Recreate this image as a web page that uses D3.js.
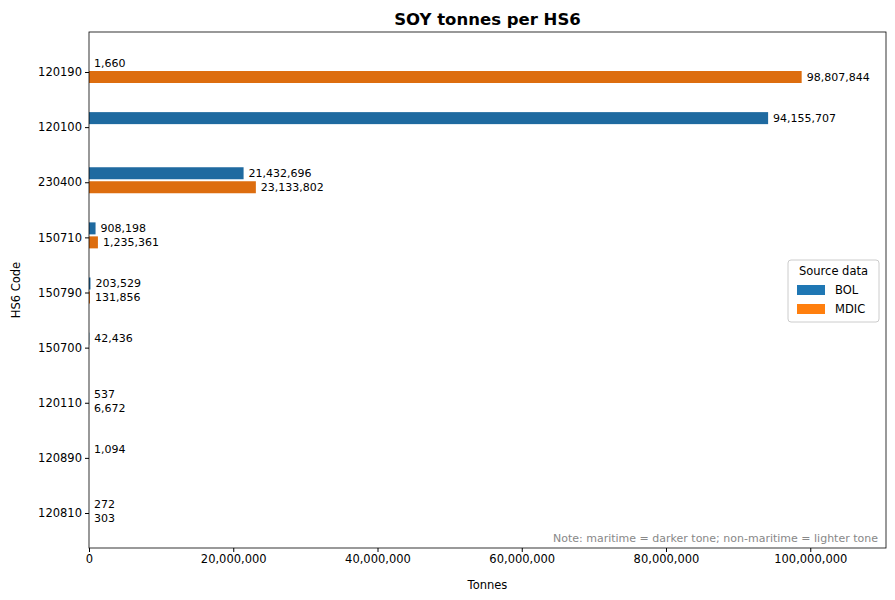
<!DOCTYPE html>
<html><head><meta charset="utf-8">
<script src="https://cdn.jsdelivr.net/npm/d3@7"></script>
<style>body{margin:0;background:#fff;font-family:"DejaVu Sans",sans-serif}</style>
</head><body>
<svg id="chart" width="895" height="600"></svg>
<script>
// SOY tonnes per HS6, by source
var codes = ["120190","120100","230400","150710","150790","150700","120110","120890","120810"];
var bolValues = [1660, 94155707, 21432696, 908198, 203529, 42436, 537, 1094, 272];
var mdicValues = [98807844, null, 23133802, 1235361, 131856, null, 6672, null, 303];
var xTicks = [0, 20000000, 40000000, 60000000, 80000000, 100000000];

var svg = d3.select("#chart");
var m = {left: 89, right: 9, top: 32, bottom: 52};
var w = 895 - m.left - m.right, h = 600 - m.top - m.bottom;
var g = svg.append("g").attr("transform", "translate(" + m.left + "," + m.top + ")");

var x = d3.scaleLinear().domain([0, 110500000]).range([0, w]);
var y = d3.scalePoint().domain(codes).range([40, h - 35]);
var fmt = d3.format(",");

var series = [
  {name: "BOL", values: bolValues, dark: "#1f6aa0", light: "#1f77b4", off: -15},
  {name: "MDIC", values: mdicValues, dark: "#dd6d0f", light: "#ff7f0e", off: -1}
];

series.forEach(function(s) {
  codes.forEach(function(c, i) {
    var v = s.values[i];
    if (v == null) return;
    var y0 = y(c) + s.off;
    g.append("rect").attr("x", 0).attr("y", y0)
      .attr("width", x(v)).attr("height", 12).attr("fill", s.dark);
    g.append("text").attr("x", x(v) + 5).attr("y", y0 + 6)
      .attr("dy", "0.35em").attr("font-size", 11).text(fmt(v));
  });
});

var xa = g.append("g").attr("transform", "translate(0," + h + ")")
  .call(d3.axisBottom(x).tickValues(xTicks).tickFormat(fmt).tickSizeOuter(0).tickSize(4));
var ya = g.append("g").call(d3.axisLeft(y).tickSize(4));
[xa, ya].forEach(function(a) {
  a.selectAll("text").attr("font-size", 11.5).attr("fill", "#000").attr("font-family", "DejaVu Sans");
  a.selectAll(".domain").remove();
});
g.append("rect").attr("width", w).attr("height", h).attr("fill", "none").attr("stroke", "#000").attr("stroke-width", 0.8);

svg.append("text").attr("x", m.left + w / 2).attr("y", 25).attr("text-anchor", "middle")
  .attr("font-size", 16.5).attr("font-weight", "bold").text("SOY tonnes per HS6");
svg.append("text").attr("x", m.left + w / 2).attr("y", 589).attr("text-anchor", "middle")
  .attr("font-size", 11.5).text("Tonnes");
svg.append("text").attr("transform", "translate(20," + (m.top + h / 2) + ") rotate(-90)")
  .attr("text-anchor", "middle").attr("font-size", 11.5).text("HS6 Code");
g.append("text").attr("x", w - 8).attr("y", h - 6).attr("text-anchor", "end")
  .attr("font-size", 11).attr("fill", "#888").text("Note: maritime = darker tone; non-maritime = lighter tone");

var lg = svg.append("g").attr("transform", "translate(788,260)");
lg.append("rect").attr("width", 91).attr("height", 62).attr("rx", 3)
  .attr("fill", "#fff").attr("stroke", "#ccc");
lg.append("text").attr("x", 45.5).attr("y", 15).attr("text-anchor", "middle").attr("font-size", 11.5).text("Source data");
series.forEach(function(s, i) {
  lg.append("rect").attr("x", 9).attr("y", 25 + i * 19).attr("width", 28).attr("height", 10).attr("fill", s.light);
  lg.append("text").attr("x", 47).attr("y", 34 + i * 19).attr("font-size", 11.5).text(s.name);
});
</script>
</body></html>
